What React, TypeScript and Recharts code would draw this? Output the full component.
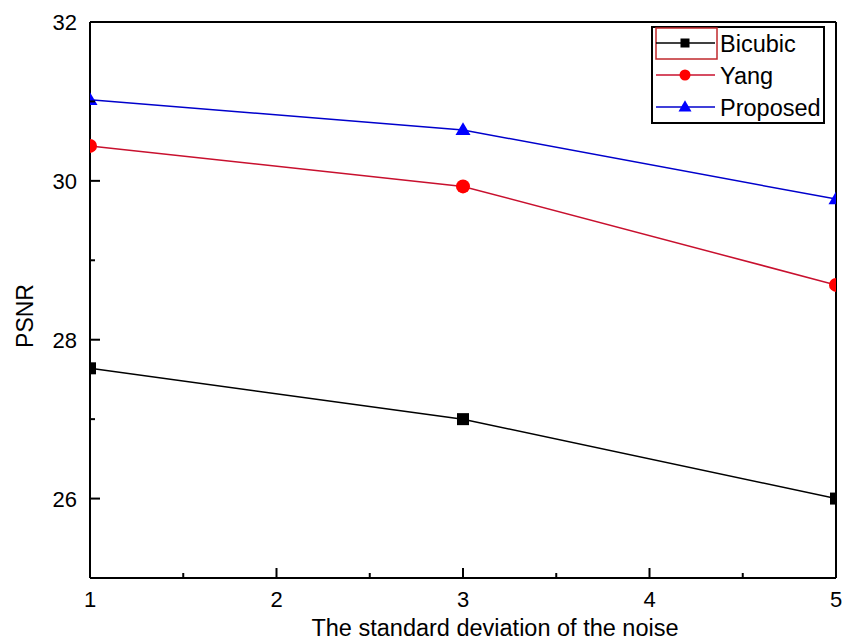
import React from "react";
import {
  LineChart,
  Line,
  XAxis,
  YAxis,
  ReferenceLine,
} from "recharts";

const noiseLevels = [1, 3, 5];
const bicubic = [27.64, 27.0, 26.0];
const yang = [30.44, 29.93, 28.69];
const proposed = [31.02, 30.64, 29.77];

const xTicks = [1, 1.5, 2, 2.5, 3, 3.5, 4, 4.5, 5];
const yTicks = [25, 26, 27, 28, 29, 30, 31, 32];

const FONT = '"Liberation Sans", Arial, sans-serif';

const rows = noiseLevels.map((x, i) => ({
  x,
  bicubic: bicubic[i],
  yang: yang[i],
  proposed: proposed[i],
}));

type Marker = "square" | "circle" | "triangle";

const series: { key: string; name: string; line: string; fill: string; marker: Marker }[] = [
  { key: "bicubic", name: "Bicubic", line: "#000000", fill: "#000000", marker: "square" },
  { key: "yang", name: "Yang", line: "#c8102e", fill: "#ff0000", marker: "circle" },
  { key: "proposed", name: "Proposed", line: "#0000cc", fill: "#0000ff", marker: "triangle" },
];

function markerShape(kind: Marker, cx: number, cy: number, fill: string, s: number) {
  if (kind === "square") {
    return <rect x={cx - s / 2} y={cy - s / 2} width={s} height={s} fill={fill} />;
  }
  if (kind === "circle") {
    return <circle cx={cx} cy={cy} r={s / 2} fill={fill} />;
  }
  const h = s * 0.85;
  return (
    <polygon
      points={`${cx},${cy - h * 0.6} ${cx - s / 2},${cy + h * 0.4} ${cx + s / 2},${cy + h * 0.4}`}
      fill={fill}
    />
  );
}

const makeDot = (kind: Marker, fill: string, s: number) => (props: any) => {
  const { cx, cy, index } = props;
  if (cx == null || cy == null) return <g key={index} />;
  return <g key={index}>{markerShape(kind, cx, cy, fill, s)}</g>;
};

const XTick = (props: any) => {
  const { x, y, payload } = props;
  const major = Number.isInteger(payload.value);
  return (
    <g>
      <line x1={x} x2={x} y1={y} y2={y - (major ? 10 : 5)} stroke="#000" strokeWidth={2} />
      {major && (
        <text x={x} y={y + 29} textAnchor="middle" fontSize={22} fontFamily={FONT} fill="#000">
          {payload.value}
        </text>
      )}
    </g>
  );
};

const YTick = (props: any) => {
  const { x, y, payload } = props;
  const major = payload.value % 2 === 0;
  return (
    <g>
      <line x1={x} x2={x + (major ? 10 : 5)} y1={y} y2={y} stroke="#000" strokeWidth={2} />
      {major && (
        <text x={x - 13} y={y + 8} textAnchor="end" fontSize={22} fontFamily={FONT} fill="#000">
          {payload.value}
        </text>
      )}
    </g>
  );
};

function LegendBox() {
  return (
    <svg
      width={174}
      height={98}
      style={{ position: "absolute", left: 651, top: 26 }}
    >
      <rect x={1} y={1} width={172} height={96} fill="#fff" stroke="#000" strokeWidth={2} />
      <rect x={5} y={2} width={61} height={31} fill="none" stroke="#c0282d" strokeWidth={1.5} />
      {series.map((s, i) => {
        const cy = 17 + i * 32;
        return (
          <g key={s.key}>
            <line x1={5} x2={64} y1={cy} y2={cy} stroke={s.line} strokeWidth={1.5} />
            {markerShape(s.marker, 34, cy, s.fill, s.marker === "square" ? 9 : s.marker === "circle" ? 11 : 13)}
            <text x={69} y={cy + 8.5} fontSize={23.5} fontFamily={FONT} fill="#000">
              {s.name}
            </text>
          </g>
        );
      })}
    </svg>
  );
}

export default function App() {
  return (
    <div style={{ position: "relative", width: 846, height: 642, background: "#fff" }}>
      <style>{`body{margin:0}`}</style>
      <LineChart
        width={846}
        height={642}
        data={rows}
        margin={{ top: 22, right: 10, left: 0, bottom: 0 }}
      >
        <XAxis
          dataKey="x"
          type="number"
          domain={[1, 5]}
          ticks={xTicks}
          interval={0}
          allowDataOverflow
          height={64}
          tickSize={0}
          tickMargin={0}
          tickLine={false}
          tick={<XTick />}
          axisLine={{ stroke: "#000", strokeWidth: 2 }}
        />
        <YAxis
          type="number"
          domain={[25, 32]}
          ticks={yTicks}
          interval={0}
          allowDataOverflow
          width={90}
          tickSize={0}
          tickMargin={0}
          tickLine={false}
          tick={<YTick />}
          axisLine={{ stroke: "#000", strokeWidth: 2 }}
        />
        <ReferenceLine y={32} stroke="#000" strokeWidth={2} />
        <ReferenceLine x={5} stroke="#000" strokeWidth={2} />
        {series.map((s) => (
          <Line
            key={s.key}
            dataKey={s.key}
            name={s.name}
            stroke={s.line}
            strokeWidth={1.5}
            dot={makeDot(s.marker, s.fill, s.marker === "square" ? 12 : s.marker === "circle" ? 14 : 15)}
            activeDot={false}
            isAnimationActive={false}
          />
        ))}
      </LineChart>
      <div
        style={{
          position: "absolute",
          left: 0,
          top: 0,
          width: 846,
          height: 642,
          pointerEvents: "none",
        }}
      >
        <svg width={846} height={642} style={{ position: "absolute", left: 0, top: 0 }}>
          <text
            x={495}
            y={636}
            textAnchor="middle"
            fontSize={23.5}
            fontFamily={FONT}
            fill="#000"
          >
            The standard deviation of the noise
          </text>
          <text
            x={0}
            y={0}
            transform="translate(33,316) rotate(-90)"
            textAnchor="middle"
            fontSize={23}
            fontFamily={FONT}
            fill="#000"
          >
            PSNR
          </text>
        </svg>
        <LegendBox />
      </div>
    </div>
  );
}
